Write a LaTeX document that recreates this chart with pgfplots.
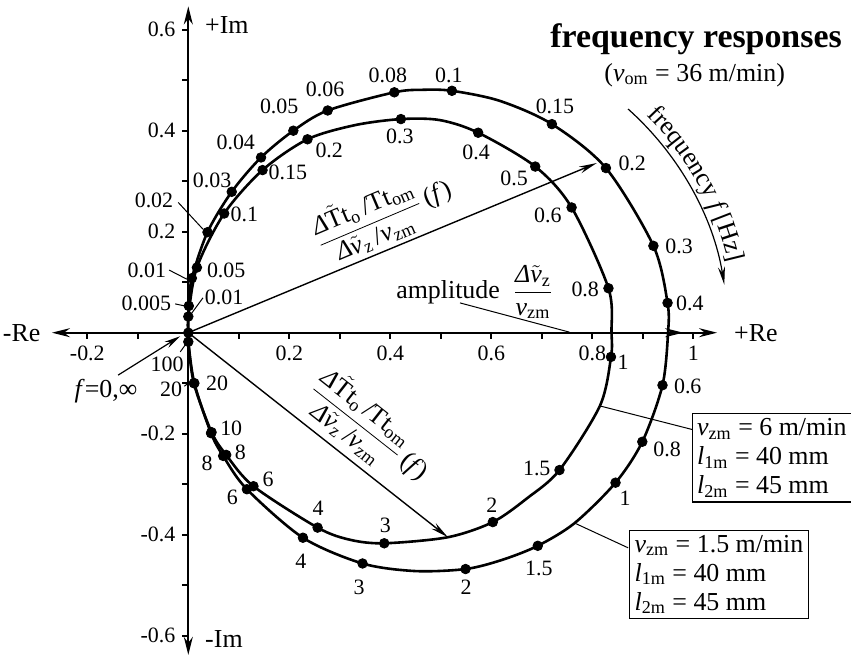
\documentclass[border=0pt]{standalone}
\usepackage{fontspec}
\setmainfont{Liberation Serif}
\usepackage{pgfplots}
\pgfplotsset{compat=1.18}
\usetikzlibrary{arrows.meta,decorations.text}

\newcommand{\sub}[1]{\textsubscript{#1}}
\newcommand{\lab}{\fontsize{11}{13}\selectfont}
\newcommand{\txt}{\fontsize{13}{14.5}\selectfont}
\newcommand{\Dl}{\textit{Δ}}
\newcommand{\vt}{$\tilde{\mbox{\textit{v}}}$}
\newcommand{\ratio}{$\displaystyle\frac{\mbox{\Dl$\tilde{\mbox{T}}$t\sub{o}\,/Tt\sub{om}}}{\mbox{\Dl\vt\sub{z}\,/\textit{v}\sub{zm}}}$}

\begin{document}
\begin{tikzpicture}
\begin{axis}[
  x=252.5bp, y=252.5bp,
  axis lines*=middle,
  clip=false,
  xmin=-0.270, xmax=1.047, ymin=-0.638, ymax=0.646,
  xtick={-0.2,0.2,0.4,0.6,0.8,1},
  minor xtick={-0.1,0.1,0.3,0.5,0.7,0.9},
  ytick={-0.6,-0.4,-0.2,0.2,0.4,0.6},
  minor ytick={-0.5,-0.3,-0.1,0.1,0.3,0.5},
  tick align=outside,
  major tick length=3bp, minor tick length=3bp,
  every tick/.style={line width=0.9bp, black},
  axis line style={line width=1bp},
  x axis line style={{Stealth[length=9bp,width=4.5bp]}-{Stealth[length=9bp,width=4.5bp,sep=8bp]Stealth[length=9bp,width=4.5bp]}},
  y axis line style={{Stealth[length=9bp,width=4.5bp]}-{Stealth[length=9bp,width=4.5bp]}},
  /pgf/number format/assume math mode=true,
  xticklabel={\mbox{\lab\pgfmathprintnumber{\tick}}},
  yticklabel={\mbox{\lab\pgfmathprintnumber{\tick}}},
]
\coordinate (BL) at (-0.3729,-0.6424);
\coordinate (TR) at (1.3123,0.6588);

% axis end labels
\node[font=\txt, anchor=east] at (-0.279,0) {-Re};
\node[font=\txt, anchor=west] at (1.067,0) {+Re};
\node[font=\txt, anchor=base west] at (0.0196,0.5925) {+Im};
\node[font=\txt, anchor=base west] at (0.0196,-0.6224) {-Im};

% title
\node[font=\fontsize{17}{20}\selectfont\bfseries, anchor=base] at (1.0054,0.5638) {frequency responses};
\node[font=\txt, anchor=base] at (1.0028,0.4984) {(\textit{v}\sub{om} = 36 m/min)};

% frequency direction arc
\draw[line width=0.6bp, -{Stealth[length=9bp,width=3.5bp]}] (0.475,0) ++(48.2:150bp) arc[start angle=48.2, end angle=9.2, radius=150bp];
\path[decorate, decoration={text along path, text align=center,
  text={|\txt|frequency |\txt\itshape|f|\txt\upshape| [Hz]}}]
  (0.475,0) ++(46:154bp) arc[start angle=46, end angle=12, radius=154bp];

% radial arrows
\draw[line width=0.7bp, -{Stealth[length=9bp,width=3.5bp]}] (0,0) -- (0.809,0.336);
\draw[line width=0.7bp, -{Stealth[length=9bp,width=3.5bp]}] (0,0) -- (0.514,-0.405);
\node[font=\txt, rotate=23] at (0.386,0.233) {\ratio\,(\textit{f})};
\node[font=\txt, rotate=-38.2] at (0.360,-0.191) {\ratio\,(\textit{f})};

% amplitude label
\draw[line width=0.5bp] (0.538,0.059) -- (0.755,0.001);
\node[font=\txt, anchor=base west, inner sep=0pt] at (0.411,0.067) {amplitude\enspace$\displaystyle\frac{\mbox{\Dl\vt\sub{z}}}{\mbox{\textit{v}\sub{zm}}}$};

% f = 0, infinity
\draw[line width=0.6bp, -{Stealth[length=8bp,width=3.5bp]}] (-0.139,-0.084) -- (-0.016,-0.007);
\node[font=\txt] at (-0.163,-0.116) {\textit{f}=0,∞};

% leaders of point labels near the origin
\draw[line width=0.5bp] (-0.020,0.258) -- (0.029,0.205);
\draw[line width=0.5bp] (-0.038,0.124) -- (-0.003,0.106);
\draw[line width=0.5bp] (-0.026,0.057) -- (-0.007,0.053);
\draw[line width=0.5bp] (0.029,0.069) -- (0.007,0.039);
\draw[line width=0.5bp] (-0.016,-0.038) -- (-0.003,-0.020);
\draw[line width=0.5bp] (-0.008,-0.106) -- (0.006,-0.096);

% parameter boxes
\draw[line width=0.5bp] (0.815,-0.145) -- (0.999,-0.192);
\draw[line width=0.5bp] (0.765,-0.377) -- (0.871,-0.426);
\node[draw, line width=0.6bp, fill=white, align=left, anchor=west, inner sep=2.5bp, font=\fontsize{13}{14.5}\selectfont] at (0.9966,-0.2475)
  {\textit{v}\sub{zm} = 6 m/min\\ \textit{l}\sub{1m} = 40 mm\\ \textit{l}\sub{2m} = 45 mm};
\node[draw, line width=0.6bp, fill=white, align=left, anchor=west, inner sep=2.5bp, font=\fontsize{13}{14.5}\selectfont] at (0.8727,-0.4788)
  {\textit{v}\sub{zm} = 1.5 m/min\\ \textit{l}\sub{1m} = 40 mm\\ \textit{l}\sub{2m} = 45 mm};

% v_zm = 1.5 m/min : response curve
\addplot[line width=1.3bp, smooth, tension=0.5] coordinates {
 (0,0) (0.001,0.053) (0.007,0.108) (0.038,0.199) (0.086,0.279) (0.144,0.347)
 (0.208,0.400) (0.276,0.440) (0.408,0.476) (0.465,0.481) (0.522,0.479) (0.617,0.459) (0.720,0.413)
 (0.827,0.326) (0.921,0.172) (0.949,0.059) (0.950,0) (0.939,-0.104) (0.899,-0.216)
 (0.846,-0.297) (0.765,-0.377) (0.692,-0.422) (0.621,-0.450) (0.549,-0.468) (0.449,-0.472) (0.345,-0.457) (0.227,-0.406)
 (0.116,-0.310) (0.069,-0.244) (0.045,-0.199) (0.012,-0.100) (0,-0.018) (0,0)};
% marked frequencies
\addplot[only marks, mark=*, mark size=2.4bp, mark options={fill=black}] coordinates {
 (0,0) (0.001,0.053) (0.007,0.108) (0.038,0.199) (0.086,0.279) (0.144,0.347)
 (0.208,0.400) (0.276,0.440) (0.408,0.476) (0.522,0.479) (0.720,0.413)
 (0.827,0.326) (0.921,0.172) (0.949,0.059) (0.939,-0.104) (0.899,-0.216)
 (0.846,-0.297) (0.692,-0.422) (0.549,-0.468) (0.345,-0.457) (0.227,-0.406)
 (0.116,-0.310) (0.069,-0.244) (0.045,-0.199) (0.012,-0.100) (0,-0.018)};

% v_zm = 6 m/min : response curve
\addplot[line width=1.3bp, smooth, tension=0.5] coordinates {
 (0,0) (0.0,0.032) (0.017,0.129) (0.071,0.236) (0.147,0.322) (0.236,0.383) (0.330,0.411)
 (0.421,0.423) (0.498,0.421) (0.574,0.396) (0.687,0.329) (0.759,0.248) (0.832,0.088) (0.838,0)
 (0.837,-0.048) (0.815,-0.145) (0.735,-0.272) (0.672,-0.327) (0.603,-0.375) (0.514,-0.405) (0.388,-0.417) (0.320,-0.410) (0.256,-0.386)
 (0.129,-0.304) (0.075,-0.242) (0.046,-0.197) (0.011,-0.100) (0,-0.018) (0,0)};
% marked frequencies
\addplot[only marks, mark=*, mark size=2.4bp, mark options={fill=black}] coordinates {
 (0.0,0.032) (0.017,0.129) (0.071,0.236) (0.147,0.322) (0.236,0.383)
 (0.421,0.423) (0.574,0.396) (0.687,0.329) (0.759,0.248) (0.832,0.088)
 (0.837,-0.048) (0.735,-0.272) (0.603,-0.375) (0.388,-0.417) (0.256,-0.386)
 (0.129,-0.304) (0.075,-0.242) (0.046,-0.197) (0.011,-0.100)};

% frequency labels, v_zm = 1.5 m/min
\begin{scope}[every node/.style={font=\lab, inner sep=0pt}]
\node at (-0.083,0.059) {0.005};
\node at (-0.082,0.124) {0.01};
\node at (-0.068,0.262) {0.02};
\node at (0.047,0.302) {0.03};
\node at (0.094,0.376) {0.04};
\node at (0.180,0.449) {0.05};
\node at (0.271,0.482) {0.06};
\node at (0.395,0.510) {0.08};
\node at (0.516,0.510) {0.1};
\node at (0.726,0.449) {0.15};
\node at (0.879,0.336) {0.2};
\node at (0.972,0.170) {0.3};
\node at (0.993,0.059) {0.4};
\node at (0.989,-0.107) {0.6};
\node at (0.948,-0.232) {0.8};
\node at (0.865,-0.327) {1};
\node at (0.694,-0.466) {1.5};
\node at (0.550,-0.505) {2};
\node at (0.338,-0.505) {3};
\node at (0.223,-0.452) {4};
\node at (0.087,-0.327) {6};
\node at (0.037,-0.258) {8};
\node at (-0.034,-0.113) {20};
\node at (-0.042,-0.062) {100};
% frequency labels, v_zm = 6 m/min
\node at (0.071,0.070) {0.01};
\node at (0.075,0.124) {0.05};
\node at (0.111,0.235) {0.1};
\node at (0.197,0.318) {0.15};
\node at (0.279,0.362) {0.2};
\node at (0.419,0.388) {0.3};
\node at (0.570,0.358) {0.4};
\node at (0.645,0.306) {0.5};
\node at (0.712,0.233) {0.6};
\node at (0.786,0.085) {0.8};
\node at (0.861,-0.058) {1};
\node at (0.690,-0.268) {1.5};
\node at (0.601,-0.341) {2};
\node at (0.390,-0.381) {3};
\node at (0.257,-0.347) {4};
\node at (0.158,-0.290) {6};
\node at (0.103,-0.236) {8};
\node at (0.085,-0.189) {10};
\node at (0.057,-0.100) {20};
\end{scope}
\end{axis}
\pgfresetboundingbox
\useasboundingbox (BL) rectangle (TR);
\end{tikzpicture}
\end{document}
